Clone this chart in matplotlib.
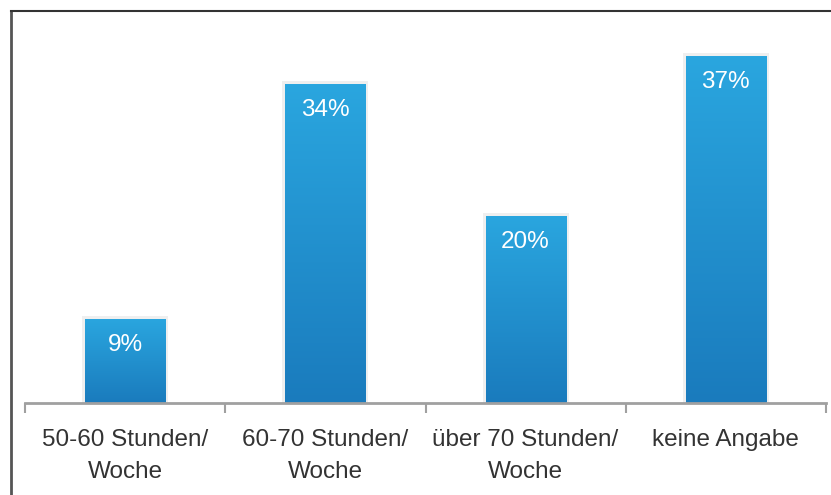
import matplotlib.pyplot as plt
import numpy as np
from matplotlib.lines import Line2D
from matplotlib.patches import Rectangle
from matplotlib.colors import LinearSegmentedColormap

categories = ["50-60 Stunden/\nWoche", "60-70 Stunden/\nWoche", "über 70 Stunden/\nWoche", "keine Angabe"]
values = [9, 34, 20, 37]
labels = ["9%", "34%", "20%", "37%"]

plt.rcParams["font.family"] = ["Liberation Sans", "DejaVu Sans"]

W, H = 831, 495
fig = plt.figure(figsize=(W / 100, H / 100), dpi=100)
ax = fig.add_axes([25 / W, (H - 403) / H, 801 / W, 375 / H])

grad = LinearSegmentedColormap.from_list("bar", ["#1a7bbd", "#2aa6df"])
bar_w = 0.40
x = np.arange(len(values))

for xi, v, lab in zip(x, values, labels):
    # light glow behind the bar
    ax.add_patch(Rectangle((xi - bar_w / 2 - 0.015, 0), bar_w + 0.03, v + 0.3,
                           facecolor="#efefef", edgecolor="none", zorder=1))
    img = ax.imshow(np.linspace(0, 1, 256).reshape(-1, 1), cmap=grad, aspect="auto",
                    extent=(xi - bar_w / 2, xi + bar_w / 2, 0, v), origin="lower", zorder=2)
    r = Rectangle((xi - bar_w / 2, 0), bar_w, v, transform=ax.transData)
    img.set_clip_path(r)
    ax.text(xi, v - 2.8, lab, ha="center", va="center", color="white", fontsize=17.5, zorder=3)

ax.set_xlim(-0.5, 3.5)
ax.set_ylim(0, 40)
for s in ["top", "right", "left"]:
    ax.spines[s].set_visible(False)
ax.spines["bottom"].set_color("#a0a0a0")
ax.spines["bottom"].set_linewidth(2)
ax.set_yticks([])
ax.set_xticks(np.arange(-0.5, 4.0, 1.0))
ax.set_xticklabels([])
ax.tick_params(axis="x", length=7, width=1.5, color="#a0a0a0")
ax.set_xticks(x, minor=True)
ax.set_xticklabels(categories, minor=True, fontsize=17.5, color="#333333", linespacing=1.55)
ax.tick_params(axis="x", which="minor", length=0, pad=19)

# frame lines of the slide
fig.add_artist(Line2D([11 / W, 11 / W], [0, 1 - 11 / H], transform=fig.transFigure, color="#555555", lw=2))
fig.add_artist(Line2D([11 / W, 1], [1 - 11 / H, 1 - 11 / H], transform=fig.transFigure, color="#333333", lw=1.5))

fig.savefig("out.png", dpi=100)
